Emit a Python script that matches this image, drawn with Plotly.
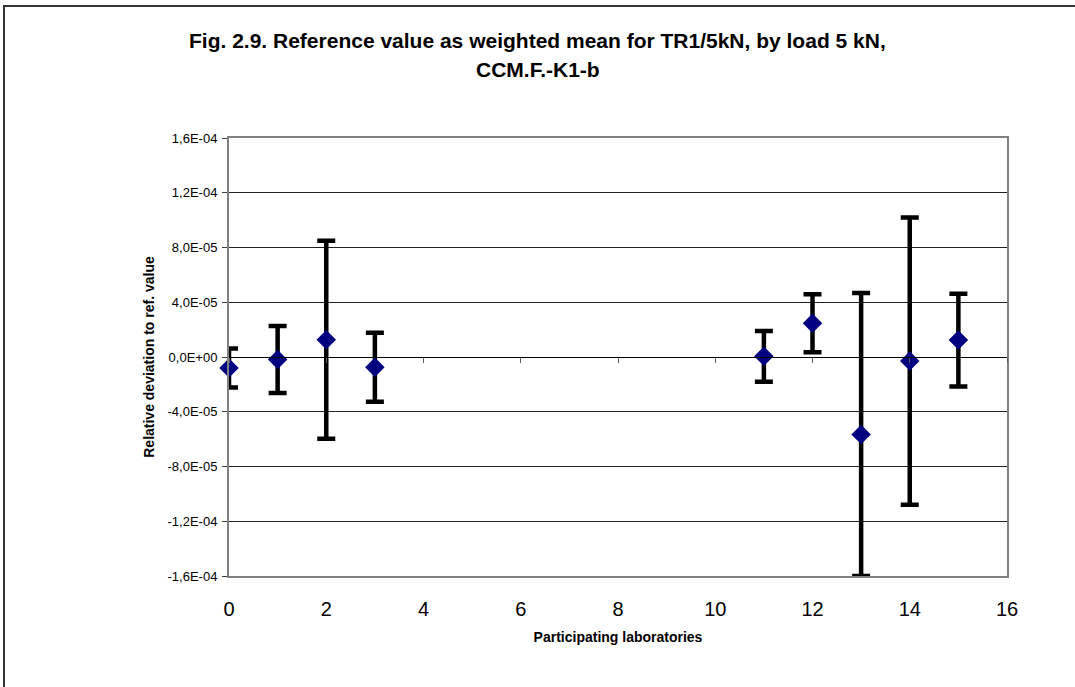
import plotly.graph_objects as go

labs = [0, 1, 2, 3, 11, 12, 13, 14, 15]
deviation = [-8.0e-6, -1.8e-6, 1.26e-5, -7.5e-6, 0.5e-6, 2.46e-5, -5.66e-5, -3.0e-6, 1.24e-5]
uncertainty = [1.43e-5, 2.45e-5, 7.23e-5, 2.52e-5, 1.85e-5, 2.12e-5, 1.034e-4, 1.049e-4, 3.39e-5]

ytickvals = [-1.6e-4, -1.2e-4, -8e-5, -4e-5, 0, 4e-5, 8e-5, 1.2e-4, 1.6e-4]
yticktext = ["-1,6E-04", "-1,2E-04", "-8,0E-05", "-4,0E-05", "0,0E+00",
             "4,0E-05", "8,0E-05", "1,2E-04", "1,6E-04"]
xtickvals = [0, 2, 4, 6, 8, 10, 12, 14, 16]

title_lines = ["Fig. 2.9. Reference value as weighted mean for TR1/5kN, by load 5 kN,",
               "CCM.F.-K1-b"]

FONT = "Arial, Liberation Sans, sans-serif"

fig = go.Figure()
fig.add_trace(go.Scatter(
    x=labs, y=deviation, mode="markers",
    marker=dict(symbol="diamond", size=15, color="#000080"),
    error_y=dict(type="data", array=uncertainty, visible=True,
                 color="black", thickness=4.5, width=9),
    cliponaxis=False, showlegend=False,
))
# invisible trace for the zero-crossing x axis
fig.add_trace(go.Scatter(x=[0, 16], y=[0, 0], xaxis="x2", mode="lines",
                         line=dict(width=0), hoverinfo="skip", showlegend=False))

L, R, T, B = 229, 68, 138, 111
W, H = 1075, 687
pw, ph = W - L - R, H - T - B

def py(ypx):
    return (H - B - ypx) / ph

fig.update_layout(
    width=W, height=H,
    margin=dict(l=L, r=R, t=T, b=B),
    paper_bgcolor="white", plot_bgcolor="white",
    font=dict(family=FONT, color="black"),
    xaxis=dict(
        range=[0, 16], tickvals=xtickvals, showgrid=False, zeroline=False,
        showline=True, linecolor="#808080", linewidth=2, mirror=True,
        ticks="", tickfont=dict(size=20, family=FONT),
        ticklabelstandoff=14,
        title=dict(text="<b>Participating laboratories</b>", font=dict(size=14, family=FONT), standoff=13),
    ),
    xaxis2=dict(
        range=[0, 16], tickvals=xtickvals, overlaying="x", anchor="free",
        position=0.5, showgrid=False, zeroline=False, showline=True,
        linecolor="black", linewidth=1, ticks="outside", ticklen=5,
        tickcolor="#606060", showticklabels=False,
    ),
    yaxis=dict(
        range=[-1.6e-4, 1.6e-4], tickvals=ytickvals, ticktext=yticktext,
        showgrid=True, gridcolor="#202020", gridwidth=1, zeroline=False,
        showline=True, linecolor="#808080", linewidth=2, mirror=True,
        ticks="outside", ticklen=5, tickcolor="#404040",
        tickfont=dict(size=13, family=FONT), ticklabelstandoff=2,
        title=dict(text="<b>Relative deviation to ref. value</b>", font=dict(size=14, family=FONT), standoff=10),
    ),
)

for text, ypx in zip(title_lines, [41, 69]):
    fig.add_annotation(text="<b>" + text + "</b>", xref="paper", yref="paper",
                       x=(W / 2 - L) / pw, y=py(ypx), xanchor="center", yanchor="middle",
                       showarrow=False, font=dict(size=21, family=FONT, color="black"))

# outer chart frame (extends beyond right/bottom of the visible page)
fig.add_shape(type="rect", xref="paper", yref="paper",
              x0=(4 - L) / pw, x1=(W + 10 - L) / pw,
              y0=py(H + 10), y1=py(6),
              line=dict(color="#333333", width=2), layer="below")

fig.write_html("out.html")
